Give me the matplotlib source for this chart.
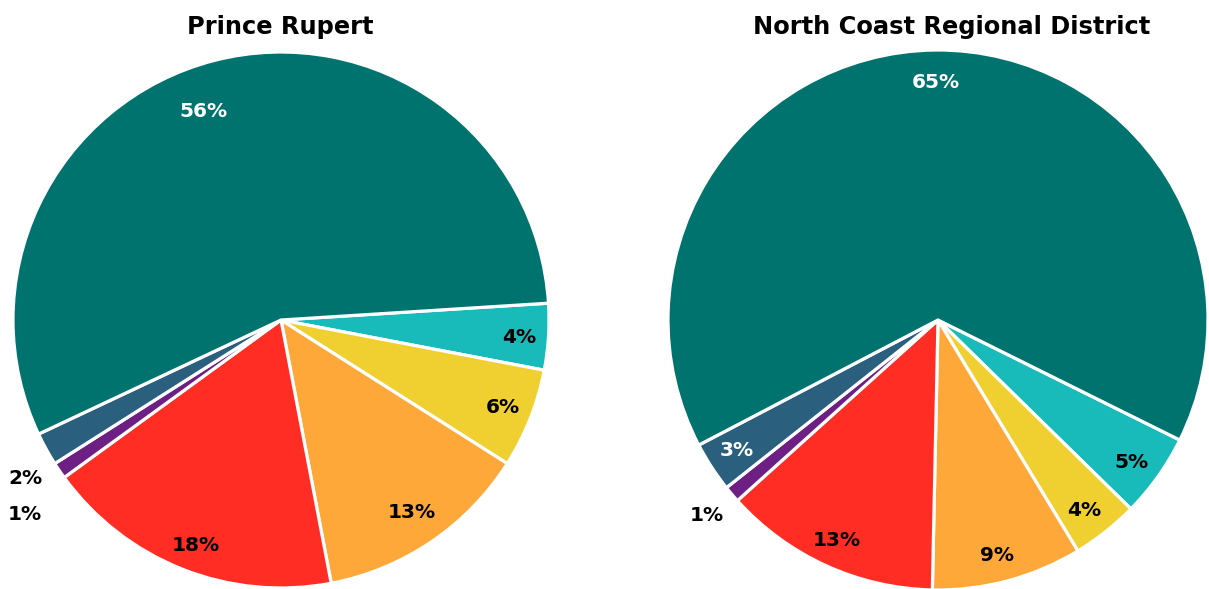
import numpy as np
import matplotlib
matplotlib.use("Agg")
import matplotlib.pyplot as plt

# slice order is clockwise, starting at the cyan wedge
categories = ["Cyan", "Yellow", "Orange", "Red", "Purple", "Dark blue", "Teal"]
colors = ["#19baba", "#f0d030", "#ffa83a", "#ff2d24", "#6e1f84", "#2b5f7e", "#00736e"]

rupert_values = [4, 6, 13, 18, 1, 2, 56]
ncrd_values = [5, 4, 9, 13, 1, 3, 65]

# label placement per slice: (radius, extra angle in degrees, text colour)
rupert_labels = [(0.89, -0.5, "black"), (0.89, 0, "black"), (0.87, 0, "black"),
                 (0.90, 1, "black"), (1.20, 3, "black"), (1.12, 3, "black"),
                 (0.83, 6, "white")]
ncrd_labels = [(0.89, -1, "black"), (0.89, -1, "black"), (0.90, -1, "black"),
               (0.90, 0, "black"), (1.12, 0, "black"), (0.89, 0, "white"),
               (0.88, 0, "white")]

W, H = 1209, 589
fig = plt.figure(figsize=(W / 100, H / 100), dpi=100)


def draw_pie(cx, cy, r, values, labels, start, title, title_x):
    ax = fig.add_axes([(cx - r) / W, (H - cy - r) / H, 2 * r / W, 2 * r / H])
    wedges, _ = ax.pie(values, colors=colors, startangle=start, counterclock=False,
                       wedgeprops=dict(edgecolor="white", linewidth=2.3))
    ax.set_xlim(-1, 1)
    ax.set_ylim(-1, 1)
    for w, v, (rad, da, col) in zip(wedges, values, labels):
        mid = np.deg2rad((w.theta1 + w.theta2) / 2 + da)
        ax.text(rad * np.cos(mid), rad * np.sin(mid), f"{v}%", ha="center", va="center",
                fontsize=14.5, fontweight="bold", color=col, clip_on=False)
    fig.text(title_x / W, 1 - 27 / H, title, ha="center", va="center",
             fontsize=17.4, fontweight="bold")


draw_pie(281, 320, 268, rupert_values, rupert_labels, 3.6, "Prince Rupert", 280)
draw_pie(938, 320, 270, ncrd_values, ncrd_labels, -26.4, "North Coast Regional District", 952)

fig.savefig("out.png", dpi=100, facecolor="white")
